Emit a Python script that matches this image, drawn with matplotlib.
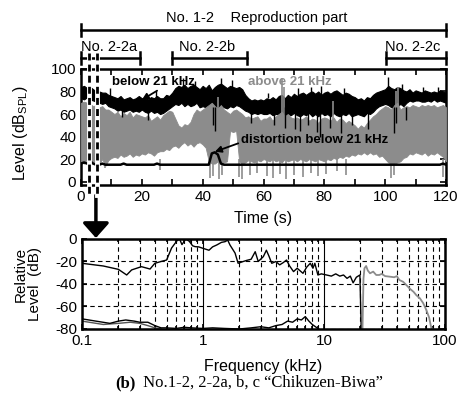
import matplotlib
matplotlib.use("Agg")
import matplotlib.pyplot as plt
import matplotlib.transforms as mtransforms
import numpy as np

plt.rcParams['font.family'] = ['Liberation Sans', 'DejaVu Sans']
plt.rcParams['axes.unicode_minus'] = False
plt.rcParams['mathtext.default'] = 'regular'

# ---- level vs time (1 s steps, 0..120 s) ----
t = np.arange(0, 121)
# black band: level below 21 kHz (upper / lower envelope)
below_hi = [84, 85, 83, 84, 82, 80,
            80, 79, 79, 77, 76,
            75, 74, 76, 73, 74, 75, 73, 74, 76, 74,
            74, 73, 75, 74, 76, 74, 74, 77, 76, 79,
            83, 85, 84, 86, 83, 85, 86, 84, 82, 85,
            83, 86, 81, 84, 86, 87, 85, 83, 85, 84,
            83, 84, 82, 77, 74, 72, 73, 72, 73, 72,
            74, 73, 75, 73, 76, 77, 74, 77, 75, 78,
            76, 78, 79, 77, 79, 80, 78, 80, 77, 79,
            80, 78, 80, 81, 79, 77, 79, 78, 76, 75,
            73, 74, 72, 75, 74, 77, 79, 80, 81, 82,
            85, 83, 82, 84, 83, 81, 80, 82, 79, 81,
            80, 79, 81, 80, 79, 80, 79, 81, 80, 79]
below_lo = [74, 73, 75, 73, 72, 71,
            70, 69, 70, 67, 66,
            65, 63, 64, 62, 63, 64, 62, 63, 62, 64,
            62, 61, 63, 61, 62, 60, 61, 63, 65, 67,
            69, 68, 70, 67, 69, 67, 68, 70, 66, 67,
            66, 64, 62, 64, 66, 68, 66, 65, 67, 66,
            68, 67, 65, 63, 62, 60, 61, 60, 61, 60,
            60, 61, 59, 60, 60, 62, 59, 60, 59, 61,
            59, 58, 60, 59, 61, 58, 60, 58, 61, 59,
            60, 58, 61, 59, 58, 60, 59, 61, 58, 59,
            60, 59, 58, 61, 60, 62, 65, 67, 68, 69,
            68, 66, 65, 67, 69, 67, 70, 72, 71, 72,
            72, 71, 71, 72, 71, 73, 71, 72, 71, 70]
# short drops / peaks of the black trace
below_dip_t = [13.5, 22, 43.5, 44.2, 56, 63.5, 67, 70.5, 72, 74.5, 77.5, 78.5,
               82, 85.5, 89, 94.5, 103, 103.6, 107]
below_dip_lo = [57, 55, 50, 45, 52, 50, 48, 47, 45, 50, 44, 40,
                48, 43, 50, 47, 43, 52, 55]
below_peak_t = [2.5, 9.5, 24.5, 33.5, 37.5, 46, 49.5, 61.5, 71.5, 75.5, 79,
                86.5, 101, 105.5, 112.5, 117.5]
below_peak_hi = [88, 83, 80, 92, 89, 92, 90, 79, 83, 84, 85,
                 83, 93, 87, 84, 84]

# grey band: level above 21 kHz
above_hi = [70, 71, 70, 69, 67, 68,
            66, 67, 64, 64, 62,
            60, 62, 58, 61, 59, 62, 57, 60, 59, 58,
            57, 59, 54, 56, 58, 55, 59, 61, 63, 62,
            56, 50, 48, 51, 50, 53, 60, 64, 62, 64,
            66, 68, 70, 67, 65, 68, 64, 62, 60, 63,
            64, 62, 60, 57, 58, 56, 57, 58, 54, 56,
            56, 58, 54, 58, 60, 62, 58, 60, 57, 56,
            57, 55, 56, 58, 54, 56, 55, 52, 56, 57,
            56, 54, 57, 53, 56, 55, 52, 54, 52, 50,
            47, 50, 48, 52, 55, 58, 60, 63, 65, 67,
            66, 64, 68, 70, 64, 66, 67, 66, 68, 67,
            66, 68, 67, 68, 67, 68, 66, 67, 68, 66]
above_lo = [18, 16, 20, 19, 17, 18,
            16, 20, 14, 19, 21,
            22, 21, 24, 22, 23, 25, 22, 24, 23, 25,
            24, 26, 25, 23, 26, 27, 27, 29, 28, 31,
            32, 30, 33, 35, 32, 34, 31, 34, 35, 33,
            30, 18, 16, 16, 18, 16, 17, 18, 45, 44,
            45, 18, 16, 17, 19, 18, 17, 19, 18, 20,
            19, 18, 20, 18, 19, 17, 20, 18, 19, 20,
            18, 20, 19, 18, 20, 19, 18, 20, 19, 18,
            20, 19, 21, 20, 22, 21, 23, 22, 24, 23,
            25, 24, 26, 24, 26, 24, 25, 22, 23, 20,
            17, 16, 16, 17, 18, 21, 22, 25, 24, 26,
            25, 24, 26, 23, 25, 24, 26, 24, 22, 18]
above_peak_t = [45, 66, 66.6, 83, 103.5, 104.3]
above_peak_hi = [75, 92, 84, 72, 80, 84]
above_dip_t = [8, 26, 42.5, 43.5, 45.5, 46.5, 52, 53, 55.5, 58, 61, 63, 65.5,
               67.5, 70, 73, 75.5, 78, 80.5, 84, 87, 102, 103, 119]
above_dip_lo = [12, 10, 3, 5, 2, 6, 4, 2, 6, 8, 5, 3, 7,
                2, 6, 4, 8, 5, 7, 9, 6, 3, 6, 4]

# distortion below 21 kHz
distortion = [16, 17, 16, 18, 16, 15,
              15, 16, 15, 15, 15,
              15, 15, 15, 16, 15, 15, 15, 15, 15, 15,
              15, 15, 15, 15, 16, 15, 15, 15, 15, 15,
              15, 15, 15, 15, 15, 15, 15, 15, 15, 15,
              15, 15, 25, 26, 24, 16, 15, 15, 15, 15,
              15, 15, 15, 15, 15, 15, 15, 15, 15, 15,
              15, 15, 15, 15, 15, 15, 15, 15, 15, 15,
              15, 15, 15, 15, 15, 15, 15, 15, 15, 15,
              15, 15, 15, 15, 15, 15, 15, 15, 15, 15,
              15, 15, 15, 15, 15, 15, 15, 15, 15, 15,
              15, 15, 15, 15, 15, 15, 15, 15, 15, 15,
              15, 15, 15, 15, 15, 15, 15, 15, 16, 15]

# ---- relative spectrum ----
audible_f = [0.1, 0.15, 0.2, 0.234, 0.257, 0.31, 0.365, 0.40, 0.45, 0.50, 0.55,
             0.61, 0.64, 0.67, 0.72, 0.77, 0.82, 0.86, 0.92, 1.0, 1.12, 1.2, 1.3,
             1.42, 1.52, 1.6, 1.67, 1.84, 1.95, 2.15, 2.3, 2.5, 2.7, 2.86, 3.15,
             3.34, 3.5, 3.7, 4.0, 4.3, 4.6, 4.9, 5.2, 5.6, 6.0, 6.7, 7.2, 7.7,
             8.1, 8.4, 8.9, 9.5, 10.5, 11.5, 12.5, 13.5, 14.5, 15.5, 16.5, 17.4,
             18.5, 19.8, 20.3]
audible_db = [-21.6, -24, -27, -32, -27.5, -24.6, -26.7, -21.6, -20, -18.7, -8,
              -1.5, 0, -5, 0, -2, -6, -6.8, -7, -8.3, -10, -7, -5.3,
              -3, -2.4, -1, -5.3, -12.5, -21.6, -20, -19, -18, -11.3, -20, -15.7,
              -10, -15, -21.6, -20, -23, -21, -18.7, -24, -29, -26, -30.5, -25, -21.6,
              -26, -21.6, -32, -31, -32, -33, -31, -33, -32, -35, -33, -39,
              -34, -32, -80]
ultra_f = [20.8, 21.2, 21.6, 22.3, 23, 24, 25.5, 27, 28.6, 30, 32, 35, 38, 40,
           42, 45, 48, 51, 55, 58, 62, 66, 70, 74, 77, 79]
ultra_db = [-80, -35, -26, -24, -28, -30.5, -29, -32, -32, -31, -33, -33.5, -34,
            -33, -36.5, -38, -41, -44, -47, -50, -52.7, -57, -63, -70, -79, -80]
floor_f = [0.1, 0.13, 0.17, 0.2, 0.23, 0.27, 0.3, 0.35, 0.4, 0.45, 0.5, 0.6, 0.7,
           0.8, 1.0, 1.2, 1.5, 2.0, 2.5, 3.0, 3.5, 4.0, 4.5, 5.0, 5.5, 6.0, 6.5,
           7.0, 7.5, 8.0, 8.5, 9.0]
floor_db = [-71, -73, -75, -73, -72, -73, -74, -74, -77, -79, -79, -79.5, -78.5,
            -79, -79.5, -79, -79.5, -80, -79, -78, -79, -77, -76, -73, -74, -71, -72,
            -69, -73, -76, -78, -80]
floor2_f = [0.1, 0.15, 0.2, 0.25, 0.3, 0.35, 0.4, 0.45]
floor2_db = [-73, -76, -75, -74, -75, -77, -79, -80]

fig = plt.figure(figsize=(4.61, 4.01), dpi=100)
ax1 = fig.add_axes([0.1757, 0.5387, 0.7918, 0.2893])
ax2 = fig.add_axes([0.1779, 0.1796, 0.7874, 0.2244])

grey = '#8c8c8c'

# top: level vs time
ax1.fill_between(t, below_lo, below_hi, color='black', lw=0.8, zorder=2)
ax1.vlines(below_peak_t, 74, below_peak_hi, color='black', lw=1, zorder=2)
ax1.fill_between(t, above_lo, above_hi, color=grey, lw=0.6, zorder=3)
ax1.vlines(above_peak_t, 55, above_peak_hi, color=grey, lw=1.2, zorder=3)
ax1.vlines(above_dip_t, above_dip_lo, 20, color=grey, lw=1.2, zorder=3)
ax1.vlines(below_dip_t, below_dip_lo, 66, color='black', lw=1, zorder=3.5)
ax1.plot(t, distortion, color='black', lw=1.8, zorder=4)
ax1.set_xlim(0, 120)
ax1.set_ylim(-3, 100)
ax1.set_xticks(range(0, 121, 20))
ax1.set_xticks(range(0, 121, 10), minor=True)
ax1.set_yticks(range(0, 101, 20))
ax1.tick_params(which='both', direction='in', top=True, right=True, labelsize=11, length=4, width=1.2)
ax1.set_xlabel('Time (s)', fontsize=11.5)
ax1.xaxis.set_label_coords(0.5, -0.22)
ax1.set_ylabel('Level (dB$_{SPL}$)', fontsize=11.5)
ax1.yaxis.set_label_coords(-0.14, 0.45)
for s in ax1.spines.values():
    s.set_linewidth(1.8)

ax1.annotate('below 21 kHz', xy=(20, 72.6), xytext=(10.2, 88.5), fontsize=9.5,
             fontweight='bold', va='center', zorder=6,
             arrowprops=dict(arrowstyle='-|>', color='black', lw=1.3,
                             shrinkA=0, shrinkB=0, relpos=(0.6, 0)))
ax1.text(55, 88.5, 'above 21 kHz', fontsize=9.5, fontweight='bold', color=grey,
         va='center', zorder=6)
ax1.annotate('distortion below 21 kHz', xy=(44, 26.5), xytext=(52.6, 37), fontsize=9.5,
             fontweight='bold', va='center', zorder=6,
             arrowprops=dict(arrowstyle='-|>', color='black', lw=1.3,
                             shrinkA=0, shrinkB=0, relpos=(0, 0.3)))

# section bars above the time plot
tr = mtransforms.blended_transform_factory(ax1.transData, ax1.transAxes)


def section(t0, t1, y, h):
    ax1.plot([t0, t1], [y, y], color='black', lw=1.8, transform=tr, clip_on=False)
    for x in (t0, t1):
        ax1.plot([x, x], [y - h, y + h], color='black', lw=1.8, transform=tr, clip_on=False)


section(0, 120, 1.336, 0.05)
section(0, 19.3, 1.095, 0.055)
section(30, 54.5, 1.095, 0.055)
section(100.3, 120, 1.095, 0.055)
ax1.text(57.6, 1.44, 'No. 1-2    Reproduction part', transform=tr, ha='center', va='center', fontsize=10.5)
ax1.text(9.2, 1.19, 'No. 2-2a', transform=tr, ha='center', va='center', fontsize=10.5)
ax1.text(41.4, 1.19, 'No. 2-2b', transform=tr, ha='center', va='center', fontsize=10.5)
ax1.text(108.9, 1.19, 'No. 2-2c', transform=tr, ha='center', va='center', fontsize=10.5)

# analysed interval (dashed) and arrow down to the spectrum
for x in (2.6, 5.3):
    ax1.plot([x, x], [1.14, -0.09], color='white', lw=3.5, transform=tr, clip_on=False, zorder=7)
    ax1.plot([x, x], [1.14, -0.09], color='black', lw=2, ls=(0, (2.5, 1.5)),
             transform=tr, clip_on=False, zorder=8)
ax1.annotate('', xy=(4.9, -0.457), xytext=(4.9, -0.09), xycoords=tr, textcoords=tr,
             annotation_clip=False,
             arrowprops=dict(arrowstyle='-|>,head_length=0.45,head_width=0.4',
                             mutation_scale=20, color='black', lw=2.5,
                             shrinkA=0, shrinkB=0))

# bottom: relative spectrum
ax2.plot(floor2_f, floor2_db, color='#555555', lw=1)
ax2.plot(floor_f, floor_db, color='black', lw=1)
ax2.plot(audible_f, audible_db, color='black', lw=1)
ax2.plot(ultra_f, ultra_db, color=grey, lw=1.3)
ax2.set_xscale('log')
ax2.set_xlim(0.1, 100)
ax2.set_ylim(-80, 0)
ax2.set_xticks([0.1, 1, 10, 100])
ax2.set_xticklabels(['0.1', '1', '10', '100'])
ax2.set_yticks([0, -20, -40, -60, -80])
ax2.grid(which='minor', axis='x', color='black', lw=0.8, ls=(0, (4, 3)))
ax2.grid(which='major', axis='x', color='black', lw=0.8, ls='-')
ax2.grid(which='major', axis='y', color='black', lw=0.8, ls=(0, (4, 3)))
ax2.tick_params(which='both', direction='in', top=True, right=True, labelsize=11, width=1.2)
ax2.tick_params(which='minor', labelbottom=False)
ax2.set_xlabel('Frequency (kHz)', fontsize=11.5)
ax2.xaxis.set_label_coords(0.5, -0.33)
ax2.set_ylabel('Relative\nLevel  (dB)', fontsize=11, multialignment='right', linespacing=1.05)
ax2.yaxis.set_label_coords(-0.11, 0.5)
for s in ax2.spines.values():
    s.set_linewidth(1.8)

fig.text(0.25, 0.045, '(b)', fontsize=12, fontweight='bold', family='Liberation Serif',
         ha='left', va='center')
fig.text(0.302, 0.045, ' No.1-2, 2-2a, b, c \u201cChikuzen-Biwa\u201d', fontsize=12,
         family='Liberation Serif', ha='left', va='center')

plt.savefig('out.png', dpi=100)
